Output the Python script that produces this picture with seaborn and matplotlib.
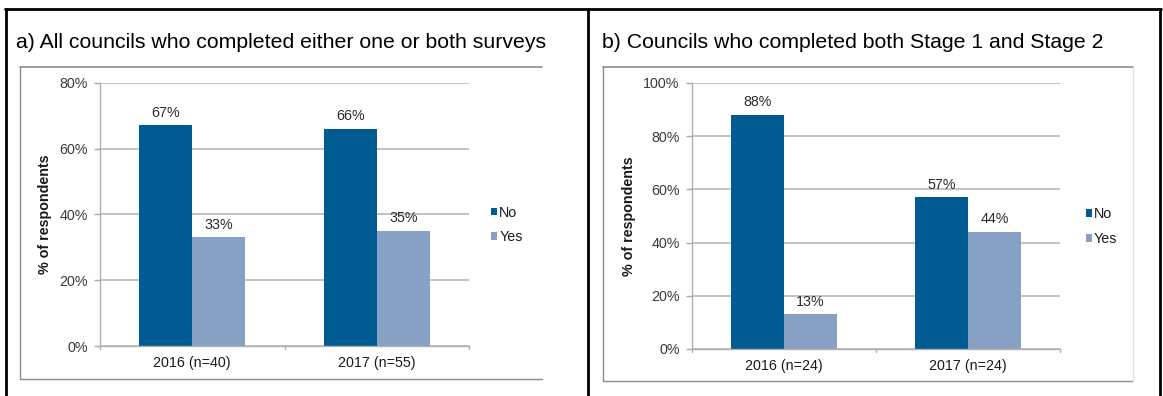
import matplotlib
matplotlib.use("Agg")
import matplotlib.pyplot as plt
from matplotlib.lines import Line2D
from matplotlib.patches import Patch
import pandas as pd
import seaborn as sns

# Survey results: share of councils answering No / Yes
years_a = ["2016 (n=40)", "2017 (n=55)"]
no_a = [67, 66]
yes_a = [33, 35]

years_b = ["2016 (n=24)", "2017 (n=24)"]
no_b = [88, 57]
yes_b = [13, 44]

responses = ["No", "Yes"]
colors = {"No": "#005b92", "Yes": "#87a1c4"}

title_a = "a) All councils who completed either one or both surveys"
title_b = "b) Councils who completed both Stage 1 and Stage 2"
ylabel = "% of respondents"

sns.set_theme(style="white")
plt.rcParams["font.family"] = ["Liberation Sans", "DejaVu Sans"]

W, H = 1163, 396
fig = plt.figure(figsize=(W / 100, H / 100), dpi=100)

FS = 10.3


def fx(x):
    return x / W


def fy(y):
    return 1 - y / H


def long_frame(cats, no, yes):
    rows = []
    for c, n, y in zip(cats, no, yes):
        rows.append({"Year": c, "Response": "No", "Pct": n})
        rows.append({"Year": c, "Response": "Yes", "Pct": y})
    return pd.DataFrame(rows)


def draw_panel(px_left, px_right, px_top, px_bottom, cats, no, yes, ymax, legend_x):
    ax = fig.add_axes([fx(px_left), fy(px_bottom), (px_right - px_left) / W,
                       (px_bottom - px_top) / H])
    df = long_frame(cats, no, yes)
    sns.barplot(data=df, x="Year", y="Pct", hue="Response", hue_order=responses,
                palette=colors, width=0.575, saturation=1, ax=ax, legend=False,
                linewidth=0)
    ax.set_ylim(0, ymax)
    ax.set_xlim(-0.5, len(cats) - 0.5)
    ticks = list(range(0, ymax + 1, 20))
    ax.set_yticks(ticks)
    ax.set_yticklabels([f"{t}%" for t in ticks], fontsize=FS, color="#3a3a3a")
    ax.tick_params(axis="x", labelsize=FS, labelcolor="#1a1a1a", length=0, pad=7)
    ax.tick_params(axis="y", length=4, color="#a8a8a8", width=1, pad=5, left=True)
    ax.yaxis.grid(True, color="#c2c2c2", linewidth=1.4)
    ax.set_axisbelow(True)
    for s in ["top", "right"]:
        ax.spines[s].set_visible(False)
    ax.spines["left"].set_color("#b0b0b0")
    ax.spines["bottom"].set_color("#b0b0b0")
    ax.spines["left"].set_linewidth(1)
    ax.spines["bottom"].set_linewidth(1)
    # category separator ticks on the x axis
    for b in [-0.5, 0.5, 1.5]:
        ax.plot([b, b], [0, -ymax * 0.012], color="#b0b0b0", lw=1, clip_on=False,
                transform=ax.transData)
    ax.set_xlabel("")
    ax.set_ylabel(ylabel, fontsize=FS, fontweight="bold", color="#1a1a1a", labelpad=5)
    # value labels above bars
    for container, vals in zip(ax.containers, [no, yes]):
        ax.bar_label(container, labels=[f"{v}%" for v in vals], padding=4,
                     fontsize=FS, color="#2a2a2a")
    handles = [Patch(facecolor=colors[r], edgecolor="none") for r in responses]
    ax.legend(handles, responses, loc="center left", frameon=False,
              bbox_to_anchor=(legend_x, 0.46), handlelength=0.42, handleheight=0.42,
              handletextpad=0.15, labelspacing=0.75, fontsize=FS,
              labelcolor="#1a1a1a", borderaxespad=0, borderpad=0)
    return ax


ax_a = draw_panel(100, 469, 82.7, 346, years_a, no_a, yes_a, 80, 1.06)
ax_b = draw_panel(692, 1060, 83, 349, years_b, no_b, yes_b, 100, 1.07)

# chart frames
frame_col = "#8c8c8c"


def hline(x0, x1, y, **kw):
    fig.add_artist(Line2D([fx(x0), fx(x1)], [fy(y), fy(y)], transform=fig.transFigure, **kw))


def vline(x, y0, y1, **kw):
    fig.add_artist(Line2D([fx(x), fx(x)], [fy(y0), fy(y1)], transform=fig.transFigure, **kw))


hline(20, 542, 66.5, color=frame_col, lw=1.2)
hline(20, 542, 379, color=frame_col, lw=1.0)
vline(20, 66.5, 379, color=frame_col, lw=1.0)

hline(603, 1133, 66.5, color=frame_col, lw=1.2)
hline(603, 1133, 381, color=frame_col, lw=1.0)
vline(603, 66.5, 381, color=frame_col, lw=1.0)
vline(1133, 66.5, 381, color="#e2e2e2", lw=1.0)

# outer table borders
hline(5, 1161, 9, color="black", lw=2)
vline(6, 9, 396, color="black", lw=2)
vline(588, 9, 396, color="black", lw=2)
vline(1160, 9, 396, color="black", lw=2)

fig.text(fx(16), fy(42), title_a, fontsize=15.3, color="black", va="center", ha="left")
fig.text(fx(602), fy(42), title_b, fontsize=15.3, color="black", va="center", ha="left")

fig.savefig("out.png", dpi=100, facecolor="white")
